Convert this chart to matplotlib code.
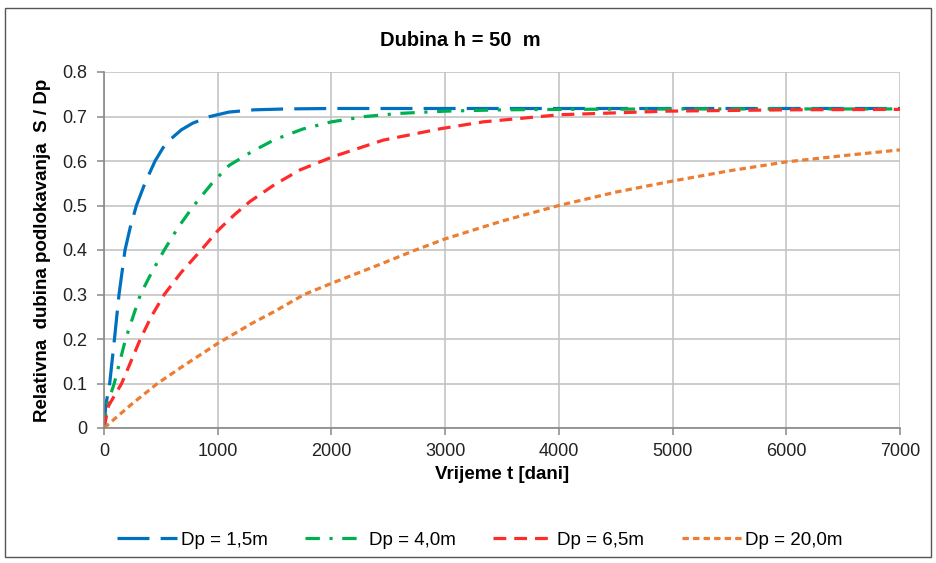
import matplotlib.pyplot as plt
from matplotlib.patches import Rectangle

plt.rcParams['font.family'] = ['Liberation Sans', 'DejaVu Sans']

###### DATA ######
t_15 = [0, 15, 50, 92, 132, 185, 230, 285, 360, 449, 520, 590, 680, 780, 932, 1100, 1320, 1600, 2000, 3000, 4000, 5000, 6000, 7000]
s_15 = [0, 0.05, 0.1, 0.2, 0.3, 0.4, 0.45, 0.5, 0.55, 0.6, 0.63, 0.65, 0.67, 0.685, 0.70, 0.71, 0.715, 0.717, 0.718, 0.718, 0.718, 0.718, 0.718, 0.718]

t_40 = [0, 25, 90, 190, 320, 420, 530, 650, 790, 950, 1100, 1300, 1500, 1750, 2000, 2300, 2600, 3000, 3500, 4000, 5000, 7000]
s_40 = [0, 0.05, 0.1, 0.2, 0.3, 0.35, 0.4, 0.45, 0.5, 0.55, 0.59, 0.621, 0.648, 0.672, 0.688, 0.700, 0.707, 0.712, 0.715, 0.716, 0.717, 0.717]

t_65 = [0, 40, 155, 320, 415, 530, 680, 855, 1006, 1150, 1284, 1500, 1724, 2017, 2457, 2970, 3336, 4010, 4948, 6000, 7000]
s_65 = [0, 0.05, 0.1, 0.2, 0.25, 0.3, 0.35, 0.4, 0.445, 0.48, 0.509, 0.547, 0.580, 0.610, 0.647, 0.673, 0.688, 0.704, 0.712, 0.715, 0.716]

t_200 = [0, 250, 470, 700, 1000, 1300, 1500, 1760, 2000, 2400, 2740, 3000, 3500, 4000, 4500, 5000, 5500, 6000, 6500, 7000]
s_200 = [0, 0.055, 0.1, 0.14, 0.19, 0.235, 0.262, 0.3, 0.325, 0.365, 0.4, 0.425, 0.465, 0.5, 0.53, 0.555, 0.578, 0.598, 0.612, 0.625]

labels = ['Dp = 1,5m', 'Dp = 4,0m', 'Dp = 6,5m', 'Dp = 20,0m']

###### PLOT ######
fig = plt.figure(figsize=(9.37, 5.63), dpi=100)
# outer chart border
fig.patches.append(Rectangle((5/937, 6/563), 926/937, 549/563, transform=fig.transFigure,
                             fill=False, edgecolor='#555555', linewidth=1.0))

ax = fig.add_axes([104/937, 1 - 428/563, 796/937, 356/563])

lw = 2.3
ax.plot(t_15, s_15, color='#0070C0', lw=lw, dashes=(10, 3.5), label=labels[0])
ax.plot(t_40, s_40, color='#00B050', lw=lw, dashes=(4.5, 3, 1, 3), label=labels[1])
ax.plot(t_65, s_65, color='#FF2A2A', lw=lw, dashes=(4, 2.5), label=labels[2])
ax.plot(t_200, s_200, color='#ED7D31', lw=lw, dashes=(2, 1.3), label=labels[3])

ax.set_xlim(0, 7000)
ax.set_ylim(0, 0.8)
ax.set_xticks(range(0, 7001, 1000))
ax.set_yticks([i/10 for i in range(9)])
ax.set_yticklabels(['0'] + [f'{i/10:.1f}' for i in range(1, 9)])
ax.grid(True, color='#C0C0C0', linewidth=1.1)
ax.set_axisbelow(True)
for sp in ['top', 'right']:
    ax.spines[sp].set_visible(False)
for sp in ['left', 'bottom']:
    ax.spines[sp].set_color('#888888')
    ax.spines[sp].set_linewidth(1.2)
ax.tick_params(axis='both', labelsize=13, colors='#888888', labelcolor='#222222', length=5, width=1.1)
ax.tick_params(axis='y', pad=7)
ax.tick_params(axis='x', pad=6)

ax.set_xlabel('Vrijeme t [dani]', fontsize=13.5, fontweight='bold', labelpad=4)
ax.set_ylabel('Relativna  dubina podlokavanja  S / Dp', fontsize=13.5, fontweight='bold', labelpad=8)
fig.text(460/937, 1 - 40/563, 'Dubina h = 50  m', ha='center', va='center', fontsize=14.5, fontweight='bold')

fig.legend(loc='center', bbox_to_anchor=(480/937, 1 - 540/563), ncol=4, frameon=False,
           fontsize=13.5, handlelength=3.2, columnspacing=2.0, handletextpad=0.2)

plt.savefig('out.png', dpi=100)
